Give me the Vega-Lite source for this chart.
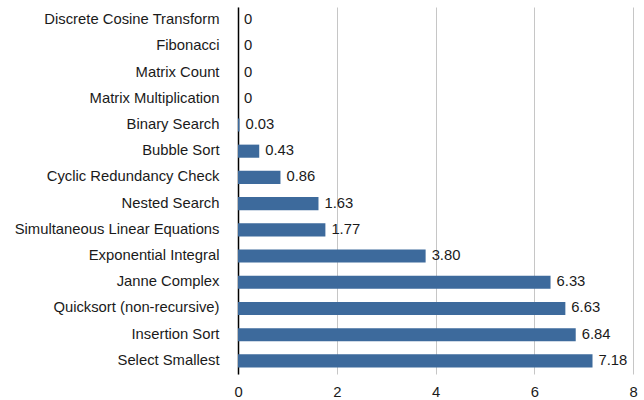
{
  "$schema": "https://vega.github.io/schema/vega-lite/v6.json",
  "autosize": {"type": "none"},
  "width": 395,
  "height": 367,
  "padding": {"left": 238, "top": 7, "right": 11, "bottom": 26},
  "background": "white",
  "config": {"view": {"stroke": null}, "font": "Liberation Sans"},
  "data": {"values": [
    {"name": "Discrete Cosine Transform", "v": 0},
    {"name": "Fibonacci", "v": 0},
    {"name": "Matrix Count", "v": 0},
    {"name": "Matrix Multiplication", "v": 0},
    {"name": "Binary Search", "v": 0.03},
    {"name": "Bubble Sort", "v": 0.43},
    {"name": "Cyclic Redundancy Check", "v": 0.86},
    {"name": "Nested Search", "v": 1.63},
    {"name": "Simultaneous Linear Equations", "v": 1.77},
    {"name": "Exponential Integral", "v": 3.80},
    {"name": "Janne Complex", "v": 6.33},
    {"name": "Quicksort (non-recursive)", "v": 6.63},
    {"name": "Insertion Sort", "v": 6.84},
    {"name": "Select Smallest", "v": 7.18}
  ]},
  "transform": [{"calculate": "datum.v == 0 ? '0' : format(datum.v, '.2f')", "as": "lbl"}],
  "encoding": {
    "y": {"field": "name", "type": "nominal", "sort": null,
      "scale": {"paddingInner": 0.5, "paddingOuter": 0.25},
      "axis": {"title": null, "ticks": false, "tickSize": 0, "labelPadding": 19,
        "labelFontSize": 14.8, "labelColor": "#1a1a1a", "domainColor": "#000", "domainWidth": 1.5, "labelLimit": 300}},
    "x": {"field": "v", "type": "quantitative",
      "scale": {"domain": [0, 8], "nice": false},
      "axis": {"title": null, "values": [0, 2, 4, 6, 8], "ticks": false, "tickSize": 0, "domain": false, "labelFlush": false,
        "labelPadding": 10, "labelFontSize": 14.8, "labelColor": "#1a1a1a", "gridColor": "#c6c6c6", "gridWidth": 1}}
  },
  "layer": [
    {"mark": {"type": "bar", "color": "#3d6a9c"}},
    {"mark": {"type": "text", "align": "left", "dx": 6, "fontSize": 14.8, "color": "#1a1a1a"},
      "encoding": {"text": {"field": "lbl"}}}
  ]
}
